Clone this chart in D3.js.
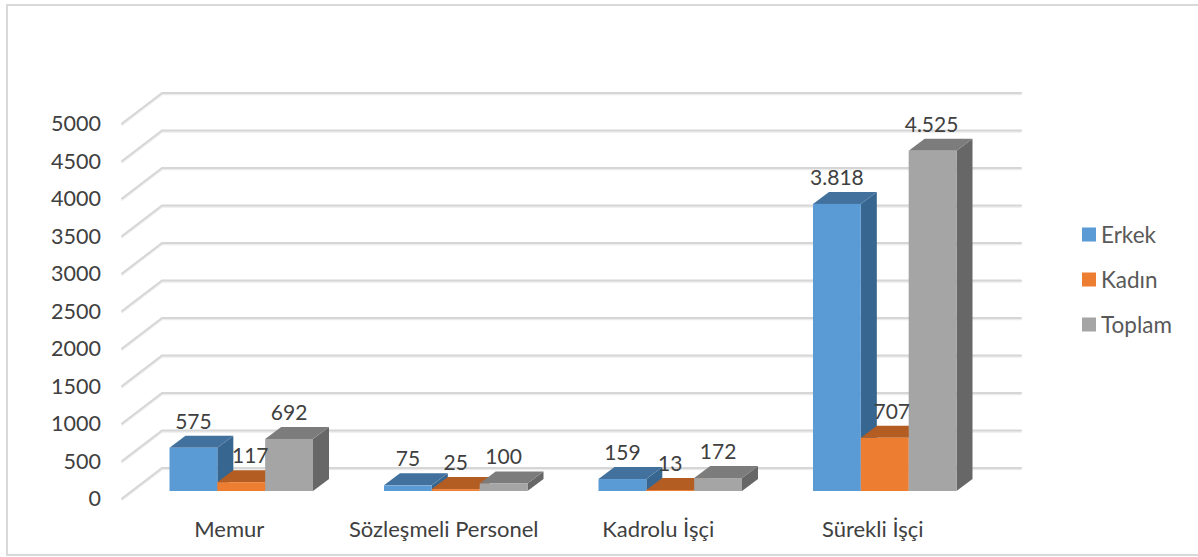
<!DOCTYPE html>
<html><head><meta charset="utf-8">
<script src="https://cdnjs.cloudflare.com/ajax/libs/d3/7.8.5/d3.min.js"></script>
<style>html,body{margin:0;padding:0;background:#fff;overflow:hidden}svg{display:block}text{font-family:Lato,"Open Sans",sans-serif}</style>
</head><body><svg id="c" width="1198" height="557"></svg>
<script>
const categories = ["Memur","Sözleşmeli Personel","Kadrolu İşçi","Sürekli İşçi"];
const seriesNames = ["Erkek","Kadın","Toplam"];
const erkek = [575,75,159,3818];
const kadin = [117,25,13,707];
const toplam = [692,100,172,4525];
const valueLabels = [["575","75","159","3.818"],["117","25","13","707"],["692","100","172","4.525"]];
const yTicks = [0,500,1000,1500,2000,2500,3000,3500,4000,4500,5000];
const fronts = ["#5b9bd5","#ed7d31","#a5a5a5"];
const tops = ["#41719c","#b35d22","#7c7c7c"];
const sides = ["#376790","#b35d22","#676767"];

const svg = d3.select("#c");
svg.append("rect").attr("x",7).attr("y",5).attr("width",1200).attr("height",550)
  .attr("fill","#fff").attr("stroke","#d9d9d9").attr("stroke-width",2);

const depth={x:40,y:-30.5};
const barDepth={x:16,y:-12};
const y=d3.scaleLinear().domain([0,5000]).range([498.5,123.5]);
const x=d3.scaleBand().domain(categories).range([122,980]);
const inner=d3.scaleBand().domain(seriesNames).range([0,143.5]);
const groupOffset=(x.bandwidth()-143.5)/2+12;
const barBase=491;
const h=d3.scaleLinear().domain([0,5000]).range([0,376]);

const gridG=svg.append("g");
[["#ececec",1.6],["#d6d6d6",2]].forEach(([col,w],i)=>{
  gridG.append("g").attr("transform",i==0?"translate(0,1.5)":null).selectAll("path").data(yTicks).join("path")
    .attr("fill","none").attr("stroke",col).attr("stroke-width",w).attr("stroke-linecap","round")
    .attr("d",d=>{const p=d3.path();p.moveTo(122,y(d));p.lineTo(122+depth.x,y(d)+depth.y);p.lineTo(981+depth.x,y(d)+depth.y);return p.toString();});
});

svg.append("g").selectAll("text").data(yTicks).join("text")
  .attr("x",101).attr("y",d=>y(d)).attr("dy","0.36em").attr("text-anchor","end")
  .attr("font-size",21.5).attr("fill","#404040").text(d=>d);

const seriesValues=[erkek,kadin,toplam];
const pts=a=>a.map(p=>p.join(",")).join(" ");
categories.forEach((cat,ci)=>{
  const g=svg.append("g");
  seriesNames.forEach((s,si)=>{
    const x0=x(cat)+groupOffset+inner(s), x1=x0+inner.bandwidth();
    const yb=barBase, yt=barBase-h(seriesValues[si][ci]);
    const dx=barDepth.x, dy=barDepth.y;
    g.append("polygon").attr("fill",sides[si]).attr("points",pts([[x1,yb],[x1+dx,yb+dy],[x1+dx,yt+dy],[x1,yt]]));
    g.append("polygon").attr("fill",tops[si]).attr("points",pts([[x0,yt],[x1,yt],[x1+dx,yt+dy],[x0+dx,yt+dy]]));
    g.append("rect").attr("x",x0).attr("y",yt).attr("width",x1-x0).attr("height",yb-yt).attr("fill",fronts[si]);
  });
});
categories.forEach((cat,ci)=>{
  seriesNames.forEach((s,si)=>{
    const x0=x(cat)+groupOffset+inner(s);
    const yt=barBase-h(seriesValues[si][ci]);
    svg.append("text").attr("x",x0+inner.bandwidth()/2+(si==1&&ci==0?9:0)+(si==1&&ci==3?7:0)+(ci==3&&si==2?-1:0))
      .attr("y",yt-19).attr("text-anchor","middle").attr("font-size",21).attr("fill","#404040")
      .text(valueLabels[si][ci]);
  });
});
svg.append("g").selectAll("text").data(categories).join("text")
  .attr("x",d=>x(d)+x.bandwidth()/2).attr("y",537).attr("text-anchor","middle")
  .attr("font-size",22).attr("fill","#404040").text(d=>d);
const legY=d3.scalePoint().domain(seriesNames).range([234.5,324.5]);
const lg=svg.append("g").selectAll("g").data(seriesNames).join("g");
lg.append("rect").attr("x",1082).attr("y",d=>legY(d)-7).attr("width",14).attr("height",14).attr("fill",(d,i)=>fronts[i]);
lg.append("text").attr("x",1101).attr("y",d=>legY(d)).attr("dy","0.36em").attr("font-size",22.5).attr("fill","#595959").text(d=>d);
</script></body></html>
